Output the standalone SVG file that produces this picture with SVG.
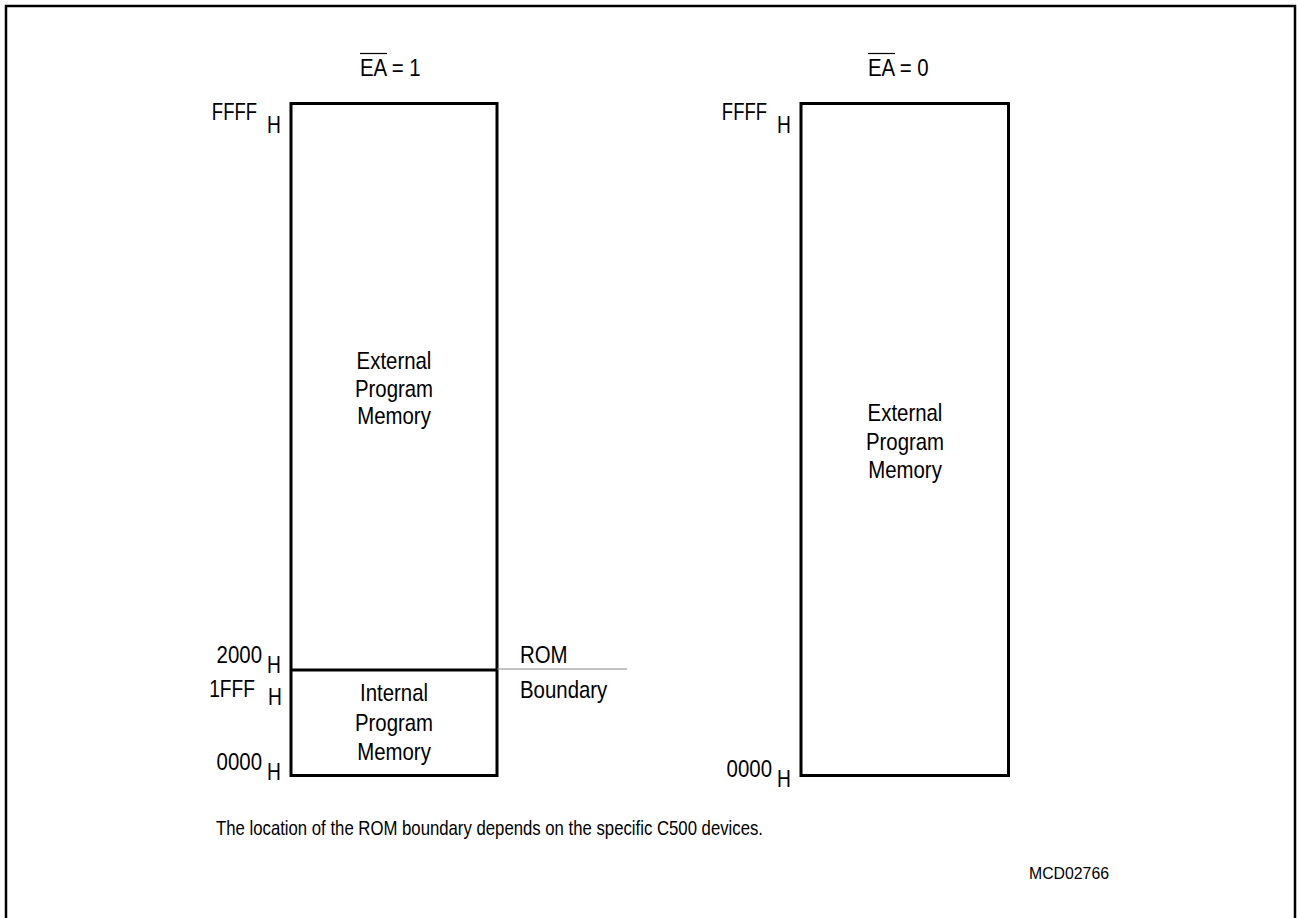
<svg xmlns="http://www.w3.org/2000/svg" width="1297" height="918" viewBox="0 0 1297 918">
<style>
text { font-family: "Liberation Sans", Arial, sans-serif; font-size: 24px; fill: #000; }
.box { fill: none; stroke: #000; stroke-width: 3; }
.frame { fill: none; stroke: #000; stroke-width: 2.5; }
.ol { stroke: #000; stroke-width: 1.2; }
</style>
<rect width="1297" height="918" fill="#fff"/>
<path class="frame" d="M6,918 V6 H1295 V918"/>

<g id="title1">
  <text transform="translate(360 76) scale(0.85 1)">EA = 1</text>
  <line class="ol" x1="360" y1="53.5" x2="387" y2="53.5"/>
</g>
<g id="title2">
  <text transform="translate(868 76) scale(0.85 1)">EA = 0</text>
  <line class="ol" x1="868" y1="53.5" x2="895" y2="53.5"/>
</g>

<g id="mem1">
  <rect class="box" x="291" y="103.5" width="206" height="672"/>
  <line class="box" x1="291" y1="670" x2="497" y2="670"/>
  <g id="ext1">
    <text text-anchor="middle" transform="translate(394 369) scale(0.85 1)">External</text>
    <text text-anchor="middle" transform="translate(394 397) scale(0.85 1)">Program</text>
    <text text-anchor="middle" transform="translate(394 424) scale(0.85 1)">Memory</text>
  </g>
  <g id="int1">
    <text text-anchor="middle" transform="translate(394 701) scale(0.85 1)">Internal</text>
    <text text-anchor="middle" transform="translate(394 731) scale(0.85 1)">Program</text>
    <text text-anchor="middle" transform="translate(394 760) scale(0.85 1)">Memory</text>
  </g>
  <g id="addr1">
    <text text-anchor="end" transform="translate(257 120) scale(0.77 1)">FFFF</text>
    <text transform="translate(267 133) scale(0.8 1)">H</text>
    <text text-anchor="end" transform="translate(262 663) scale(0.85 1)">2000</text>
    <text transform="translate(267 673) scale(0.8 1)">H</text>
    <text text-anchor="end" transform="translate(255 697) scale(0.8 1)">1FFF</text>
    <text transform="translate(268 705) scale(0.8 1)">H</text>
    <text text-anchor="end" transform="translate(262 770) scale(0.85 1)">0000</text>
    <text transform="translate(267 780) scale(0.8 1)">H</text>
  </g>
</g>

<g id="rom-boundary">
  <line x1="497" y1="669" x2="627" y2="669" stroke="#888" stroke-width="1"/>
  <text transform="translate(520 663) scale(0.85 1)">ROM</text>
  <text transform="translate(520 698) scale(0.85 1)">Boundary</text>
</g>

<g id="mem2">
  <rect class="box" x="801" y="103.5" width="207.5" height="672"/>
  <text text-anchor="middle" transform="translate(905 421) scale(0.85 1)">External</text>
  <text text-anchor="middle" transform="translate(905 450) scale(0.85 1)">Program</text>
  <text text-anchor="middle" transform="translate(905 478) scale(0.85 1)">Memory</text>
  <text text-anchor="end" transform="translate(767 120) scale(0.77 1)">FFFF</text>
  <text transform="translate(777 133) scale(0.8 1)">H</text>
  <text text-anchor="end" transform="translate(772 777) scale(0.85 1)">0000</text>
  <text transform="translate(777 787) scale(0.8 1)">H</text>
</g>

<g id="notes">
  <text x="216" y="835" style="font-size:21px" textLength="547" lengthAdjust="spacingAndGlyphs">The location of the ROM boundary depends on the specific C500 devices.</text>
  <text x="1029" y="879" style="font-size:16px" textLength="80" lengthAdjust="spacingAndGlyphs">MCD02766</text>
</g>
<g id="connectors"/>
</svg>
